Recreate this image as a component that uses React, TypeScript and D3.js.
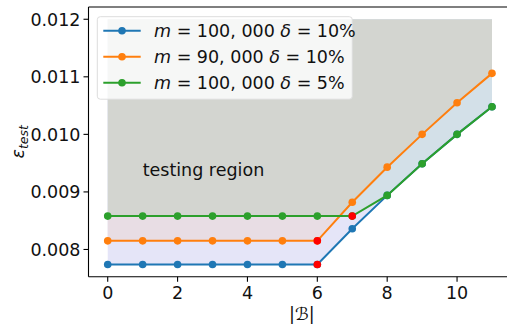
import React from "react";
import * as d3 from "d3";

const xs = [0, 1, 2, 3, 4, 5, 6, 7, 8, 9, 10, 11];
const blueVals = [0.00774, 0.00774, 0.00774, 0.00774, 0.00774, 0.00774, 0.00774, 0.00836, 0.00894, 0.00949, 0.01, 0.01048];
const orangeVals = [0.00815, 0.00815, 0.00815, 0.00815, 0.00815, 0.00815, 0.00815, 0.00882, 0.00943, 0.01, 0.01055, 0.01106];
const greenVals = [0.00858, 0.00858, 0.00858, 0.00858, 0.00858, 0.00858, 0.00858, 0.00858, 0.00894, 0.00949, 0.01, 0.01048];
const regionTop = 0.012;
const redPoints: [number, number[]][] = [[6, blueVals], [6, orangeVals], [7, greenVals]];
const yTicks = [0.008, 0.009, 0.01, 0.011, 0.012];
const xTicks = [0, 2, 4, 6, 8, 10];
const legendItems = [
  { color: "#1f77b4", m: "100, 000", d: "10%" },
  { color: "#ff7f0e", m: "90, 000", d: "10%" },
  { color: "#2ca02c", m: "100, 000", d: "5%" },
];
const seriesList = [
  { color: "#1f77b4", vals: blueVals },
  { color: "#ff7f0e", vals: orangeVals },
  { color: "#2ca02c", vals: greenVals },
];

const W = 507, H = 326;
const FONT = "DejaVu Sans";
const FS = 17.5;

export default function App() {
  const x = d3.scaleLinear().domain([-0.55, 11.55]).range([88.5, 511.2]);
  const y = d3.scaleLinear().domain([0.007527, 0.012213]).range([276.7, 7]);
  const areaFrom = (vals: number[]) =>
    d3.area<number>().x((d) => x(d)).y0((d, i) => y(vals[i])).y1(() => y(regionTop))(xs) || "";
  const line = (vals: number[]) =>
    d3.line<number>().x((d) => x(d)).y((d, i) => y(vals[i]))(xs) || "";
  const left = x.range()[0], right = x.range()[1];
  const top = y.range()[1], bottom = y.range()[0];
  return (
    <svg width={W} height={H} style={{ position: "absolute", left: 0, top: 0 }} fontFamily={FONT}>
      <defs>
        <clipPath id="aboveOrange">
          <path d={areaFrom(orangeVals)} />
        </clipPath>
      </defs>
      <rect width={W} height={H} fill="#fff" />
      <path d={areaFrom(blueVals)} fill="#e5e5f8" />
      <path d={areaFrom(orangeVals)} fill="#e8dde4" />
      <path d={areaFrom(greenVals)} fill="#d3e0e8" />
      <path d={areaFrom(greenVals)} fill="#d3d5d0" clipPath="url(#aboveOrange)" />
      <text x={x(1)} y={y(0.00927)} fontSize={FS} fill="#111">testing region</text>
      {seriesList.map((s) => (
        <g key={s.color}>
          <path d={line(s.vals)} fill="none" stroke={s.color} strokeWidth={2} />
          {xs.map((d, i) => (
            <circle key={i} cx={x(d)} cy={y(s.vals[i])} r={3.8} fill={s.color} />
          ))}
        </g>
      ))}
      {redPoints.map(([xi, vals], i) => (
        <circle key={i} cx={x(xi)} cy={y(vals[xi])} r={3.8} fill="#ff0000" />
      ))}
      {/* spines */}
      <line x1={left} x2={left} y1={top} y2={bottom} stroke="#000" strokeWidth={1.1} />
      <line x1={left} x2={right} y1={bottom} y2={bottom} stroke="#000" strokeWidth={1.1} />
      <line x1={left} x2={right} y1={top} y2={top} stroke="#000" strokeWidth={1.1} />
      <line x1={right} x2={right} y1={top} y2={bottom} stroke="#000" strokeWidth={1.1} />
      {yTicks.map((t) => (
        <g key={t}>
          <line x1={left - 5} x2={left} y1={y(t)} y2={y(t)} stroke="#000" strokeWidth={1.1} />
          <text x={left - 8} y={y(t)} dy="0.36em" textAnchor="end" fontSize={FS} fill="#111">
            {d3.format(".3f")(t)}
          </text>
        </g>
      ))}
      {xTicks.map((t) => (
        <g key={t}>
          <line x1={x(t)} x2={x(t)} y1={bottom} y2={bottom + 5} stroke="#000" strokeWidth={1.1} />
          <text x={x(t)} y={bottom + 22} textAnchor="middle" fontSize={FS} fill="#111">
            {t}
          </text>
        </g>
      ))}
      <text x={(left + right) / 2 + 2} y={320} textAnchor="middle" fontSize={FS} fill="#111">
        |<tspan fontStyle="italic">ℬ</tspan>|
      </text>
      <text transform={`translate(24,${(top + bottom) / 2}) rotate(-90)`} textAnchor="middle" fontSize={FS} fill="#111">
        <tspan fontStyle="italic">ε</tspan>
        <tspan fontStyle="italic" fontSize={12.5} dy={4}>test</tspan>
      </text>
      {/* legend */}
      <rect x={97.3} y={16.7} width={255} height={82.5} rx={3} fill="#fff" fillOpacity={0.8} stroke="#dddddd" strokeWidth={1} />
      {legendItems.map((it, i) => {
        const ly = 30.7 + i * 26;
        return (
          <g key={i}>
            <line x1={103.3} x2={140.7} y1={ly} y2={ly} stroke={it.color} strokeWidth={2} />
            <circle cx={122} cy={ly} r={3.8} fill={it.color} />
            <text x={154} y={ly} dy="0.36em" fontSize={FS} fill="#111">
              <tspan fontStyle="italic">m</tspan>
              {` = ${it.m} `}
              <tspan fontStyle="italic">δ</tspan>
              {` = ${it.d}`}
            </text>
          </g>
        );
      })}
    </svg>
  );
}
